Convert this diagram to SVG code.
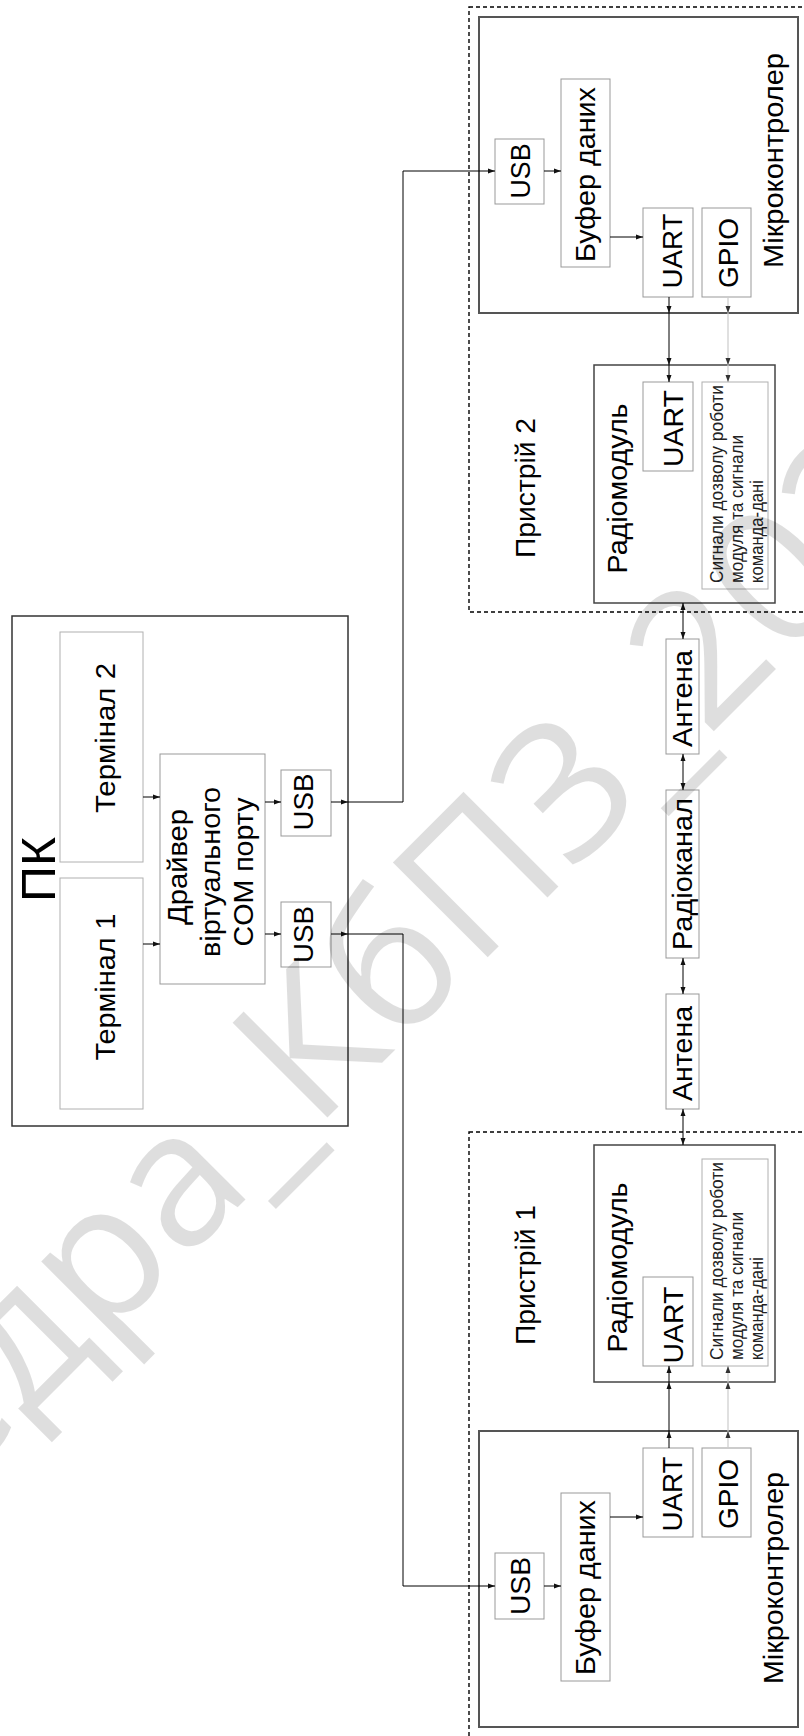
<svg xmlns="http://www.w3.org/2000/svg" width="804" height="1736" viewBox="0 0 804 1736">
<style>
.t{font-family:"Liberation Sans",Arial,sans-serif;font-size:27.5px;fill:#000;text-anchor:middle}
.s{font-family:"Liberation Sans",Arial,sans-serif;font-size:17.5px;fill:#222}
.big{font-size:49px}
.outer{fill:none;stroke:#333;stroke-width:1.5}
.mc{fill:none;stroke:#555;stroke-width:2}
.rm{fill:none;stroke:#444;stroke-width:1.5}
.inner{fill:#fff;stroke:#999;stroke-width:1}
.light{fill:#fff;stroke:#b0b0b0;stroke-width:1}
.dash{fill:none;stroke:#000;stroke-width:1.4;stroke-dasharray:4 3}
.c{fill:none;stroke:#000;stroke-width:1}
.g{fill:none;stroke:#ccc;stroke-width:1.2}
.wm{font-family:"Open Sans","Liberation Sans",sans-serif;font-weight:400;font-size:188px;fill:#000;fill-opacity:0.13}
</style>
<defs>
<marker id="a" markerWidth="7" markerHeight="6" refX="7" refY="3" orient="auto-start-reverse" markerUnits="userSpaceOnUse"><path d="M0,0.5 L7,3 L0,5.5 z" fill="#111"/></marker>
<marker id="ag" markerWidth="7" markerHeight="6" refX="7" refY="3" orient="auto-start-reverse" markerUnits="userSpaceOnUse"><path d="M0,0.5 L7,3 L0,5.5 z" fill="#333"/></marker>
</defs>
<rect width="804" height="1736" fill="#fff"/>

<g id="pc">
<rect class="outer" x="12" y="616" width="336" height="510"/>
<text class="t big" transform="translate(55,869.5) rotate(-90)" textLength="65" lengthAdjust="spacingAndGlyphs">ПК</text>
</g>
<g id="terminal2">
<rect class="light" x="60" y="632" width="83" height="230"/>
<text class="t" transform="translate(115,738) rotate(-90)" textLength="150" lengthAdjust="spacingAndGlyphs">Термінал 2</text>
</g>
<g id="terminal1">
<rect class="light" x="60" y="878" width="83" height="231"/>
<text class="t" transform="translate(115,987) rotate(-90)" textLength="147" lengthAdjust="spacingAndGlyphs">Термінал 1</text>
</g>
<g id="driver">
<rect class="inner" x="160" y="754" width="105" height="230"/>
<text class="t" transform="translate(187,867) rotate(-90)" textLength="116" lengthAdjust="spacingAndGlyphs">Драйвер</text>
<text class="t" transform="translate(220,872) rotate(-90)" textLength="170" lengthAdjust="spacingAndGlyphs">віртуального</text>
<text class="t" transform="translate(253,872) rotate(-90)" textLength="149" lengthAdjust="spacingAndGlyphs">COM порту</text>
</g>
<g id="pc-usb2">
<rect class="inner" x="281" y="770" width="50" height="66"/>
<text class="t" transform="translate(313,802) rotate(-90)" textLength="57" lengthAdjust="spacingAndGlyphs">USB</text>
</g>
<g id="pc-usb1">
<rect class="inner" x="281" y="902" width="50" height="65"/>
<text class="t" transform="translate(313,934.5) rotate(-90)" textLength="57" lengthAdjust="spacingAndGlyphs">USB</text>
</g>

<g id="device2">
<rect class="dash" x="469" y="7" width="400" height="605"/>
<text class="t" transform="translate(535,488) rotate(-90)" textLength="140" lengthAdjust="spacingAndGlyphs">Пристрій 2</text>
</g>
<g id="mc2">
<rect class="mc" x="479" y="17" width="319" height="296"/>
<text class="t" transform="translate(783,160.5) rotate(-90)" textLength="215" lengthAdjust="spacingAndGlyphs">Мікроконтролер</text>
</g>
<g id="mc2-usb">
<rect class="inner" x="495" y="139" width="49" height="65"/>
<text class="t" transform="translate(530,171) rotate(-90)" textLength="55" lengthAdjust="spacingAndGlyphs">USB</text>
</g>
<g id="mc2-buffer">
<rect class="inner" x="561" y="79" width="49" height="188"/>
<text class="t" transform="translate(595,174.5) rotate(-90)" textLength="175" lengthAdjust="spacingAndGlyphs">Буфер даних</text>
</g>
<g id="mc2-uart">
<rect class="inner" x="643" y="208" width="50" height="89"/>
<text class="t" transform="translate(682,251) rotate(-90)" textLength="75" lengthAdjust="spacingAndGlyphs">UART</text>
</g>
<g id="mc2-gpio">
<rect class="inner" x="702" y="208" width="49" height="89"/>
<text class="t" transform="translate(738,253) rotate(-90)" textLength="70" lengthAdjust="spacingAndGlyphs">GPIO</text>
</g>
<g id="rm2">
<rect class="rm" x="594" y="365" width="181" height="238"/>
<text class="t" transform="translate(627,488.5) rotate(-90)" textLength="170" lengthAdjust="spacingAndGlyphs">Радіомодуль</text>
</g>
<g id="rm2-uart">
<rect class="inner" x="643" y="382" width="50" height="89"/>
<text class="t" transform="translate(683,428.5) rotate(-90)" textLength="77" lengthAdjust="spacingAndGlyphs">UART</text>
</g>
<g id="rm2-signals">
<rect class="light" x="702" y="382" width="66" height="207"/>
<text class="s" transform="translate(723,583) rotate(-90)"><tspan x="0" y="0" textLength="198" lengthAdjust="spacingAndGlyphs">Сигнали дозволу роботи</tspan><tspan x="0" y="20" textLength="148" lengthAdjust="spacingAndGlyphs">модуля та сигнали</tspan><tspan x="0" y="40" textLength="103" lengthAdjust="spacingAndGlyphs">команда-дані</tspan></text>
</g>

<g id="antenna2">
<rect class="inner" x="666" y="639" width="33" height="115"/>
<text class="t" transform="translate(692,698.5) rotate(-90)" textLength="97" lengthAdjust="spacingAndGlyphs">Антена</text>
</g>
<g id="radiochannel">
<rect class="inner" x="666" y="790" width="33" height="168"/>
<text class="t" transform="translate(692,874) rotate(-90)" textLength="152" lengthAdjust="spacingAndGlyphs">Радіоканал</text>
</g>
<g id="antenna1">
<rect class="inner" x="666" y="994" width="33" height="115"/>
<text class="t" transform="translate(692,1053.5) rotate(-90)" textLength="95" lengthAdjust="spacingAndGlyphs">Антена</text>
</g>

<g id="device1">
<rect class="dash" x="469" y="1132" width="400" height="700"/>
<text class="t" transform="translate(535,1275) rotate(-90)" textLength="140" lengthAdjust="spacingAndGlyphs">Пристрій 1</text>
</g>
<g id="rm1">
<rect class="rm" x="594" y="1145" width="181" height="237"/>
<text class="t" transform="translate(627,1267.5) rotate(-90)" textLength="170" lengthAdjust="spacingAndGlyphs">Радіомодуль</text>
</g>
<g id="rm1-signals">
<rect class="light" x="702" y="1159" width="66" height="207"/>
<text class="s" transform="translate(723,1360) rotate(-90)"><tspan x="0" y="0" textLength="198" lengthAdjust="spacingAndGlyphs">Сигнали дозволу роботи</tspan><tspan x="0" y="20" textLength="148" lengthAdjust="spacingAndGlyphs">модуля та сигнали</tspan><tspan x="0" y="40" textLength="103" lengthAdjust="spacingAndGlyphs">команда-дані</tspan></text>
</g>
<g id="rm1-uart">
<rect class="inner" x="643" y="1277" width="50" height="89"/>
<text class="t" transform="translate(683,1325) rotate(-90)" textLength="77" lengthAdjust="spacingAndGlyphs">UART</text>
</g>
<g id="mc1">
<rect class="mc" x="479" y="1431" width="319" height="296"/>
<text class="t" transform="translate(783,1578) rotate(-90)" textLength="212" lengthAdjust="spacingAndGlyphs">Мікроконтролер</text>
</g>
<g id="mc1-uart">
<rect class="inner" x="643" y="1448" width="50" height="89"/>
<text class="t" transform="translate(682,1494) rotate(-90)" textLength="75" lengthAdjust="spacingAndGlyphs">UART</text>
</g>
<g id="mc1-gpio">
<rect class="inner" x="702" y="1448" width="49" height="89"/>
<text class="t" transform="translate(738,1494) rotate(-90)" textLength="70" lengthAdjust="spacingAndGlyphs">GPIO</text>
</g>
<g id="mc1-buffer">
<rect class="inner" x="561" y="1493" width="49" height="188"/>
<text class="t" transform="translate(595,1587.5) rotate(-90)" textLength="175" lengthAdjust="spacingAndGlyphs">Буфер даних</text>
</g>
<g id="mc1-usb">
<rect class="inner" x="495" y="1553" width="49" height="66"/>
<text class="t" transform="translate(530,1586) rotate(-90)" textLength="58" lengthAdjust="spacingAndGlyphs">USB</text>
</g>

<g id="connectors">
<path class="c" d="M143,797 H160" marker-end="url(#a)"/>
<path class="c" d="M143,944 H160" marker-end="url(#a)"/>
<path class="c" d="M265,802 H281" marker-end="url(#a)"/>
<path class="c" d="M265,934 H281" marker-end="url(#a)"/>
<path class="c" d="M331,802 H348" marker-end="url(#a)"/>
<path class="c" d="M348,802 H403 V171 H495" marker-end="url(#a)"/>
<path class="c" d="M331,934 H348" marker-end="url(#a)"/>
<path class="c" d="M348,934 H403 V1586 H495" marker-end="url(#a)"/>
<path class="c" d="M544,171 H561" marker-end="url(#a)"/>
<path class="c" d="M610,237 H643" marker-end="url(#a)"/>
<path class="c" d="M544,1586 H561" marker-end="url(#a)"/>
<path class="c" d="M610,1517 H643" marker-end="url(#a)"/>
<path class="c" d="M669,297 V313" marker-end="url(#a)"/>
<path class="c" d="M669,313 V365" marker-end="url(#a)"/>
<path class="c" d="M669,365 V382" marker-end="url(#a)"/>
<path class="g" d="M728,297 V313" marker-end="url(#ag)"/>
<path class="g" d="M728,313 V365" marker-end="url(#ag)"/>
<path class="g" d="M728,365 V382" marker-end="url(#ag)"/>
<path class="c" d="M669,1448 V1431" marker-end="url(#a)"/>
<path class="c" d="M669,1431 V1382" marker-end="url(#a)"/>
<path class="c" d="M669,1382 V1366" marker-end="url(#a)"/>
<path class="g" d="M728,1448 V1431" marker-end="url(#ag)"/>
<path class="g" d="M728,1431 V1382" marker-end="url(#ag)"/>
<path class="g" d="M728,1382 V1366" marker-end="url(#ag)"/>
<path class="c" d="M683,603 V639" marker-start="url(#a)" marker-end="url(#a)"/>
<path class="c" d="M683,754 V790" marker-start="url(#a)" marker-end="url(#a)"/>
<path class="c" d="M683,958 V994" marker-start="url(#a)" marker-end="url(#a)"/>
<path class="c" d="M683,1109 V1145" marker-start="url(#a)" marker-end="url(#a)"/>
</g>

<text class="wm" transform="translate(-300,1745) rotate(-45)">Кафедра_КбПЗ_2021</text>
</svg>
